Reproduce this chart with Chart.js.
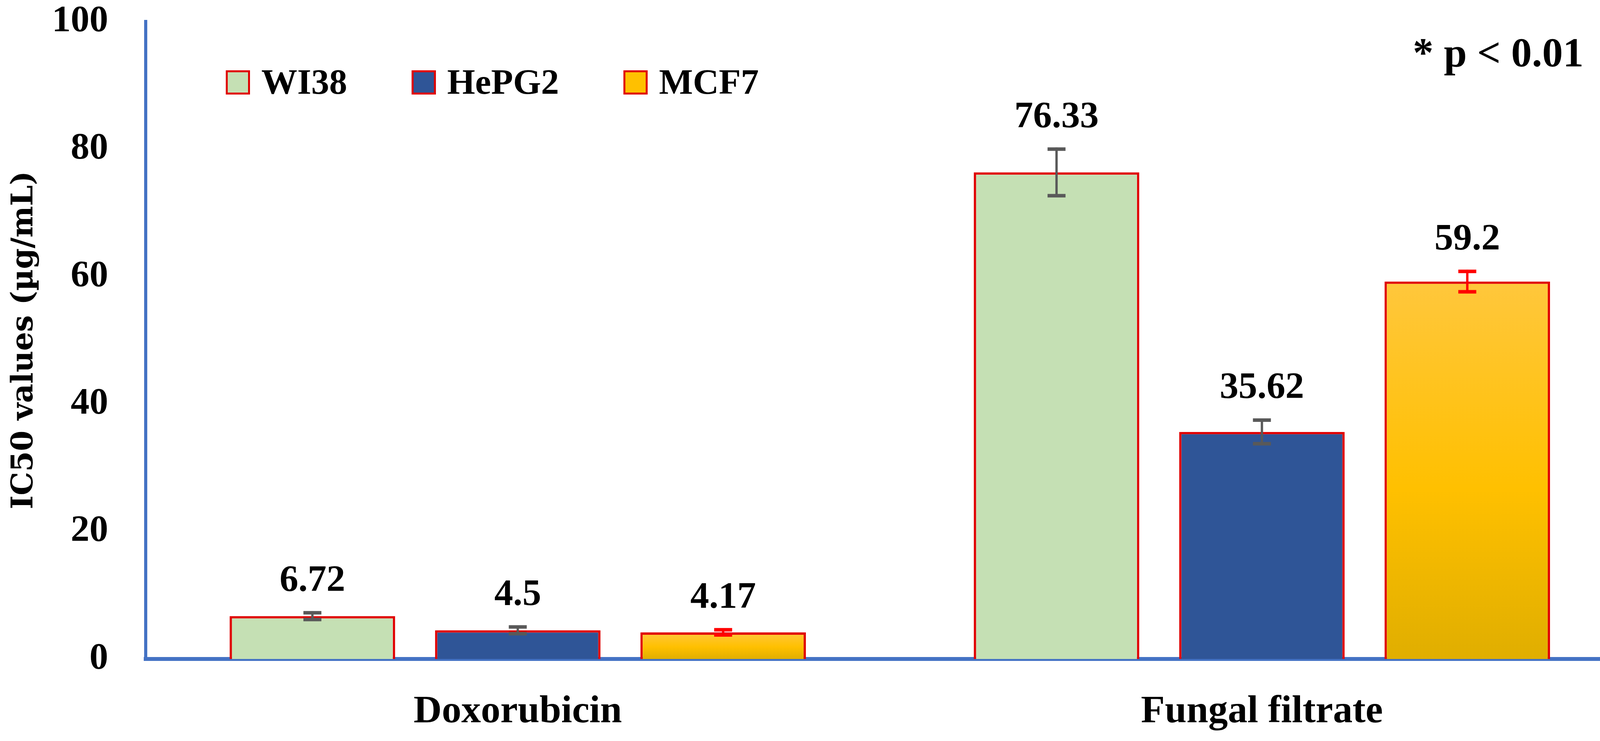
<!DOCTYPE html>
<html>
<head>
<meta charset="utf-8">
<script src="https://cdn.jsdelivr.net/npm/chart.js@4"></script>
<style>
  html, body { margin: 0; padding: 0; background: #ffffff; }
  #wrap { width: 4212px; height: 1897px; position: relative; }
</style>
</head>
<body>
<div id="wrap"><canvas id="graficoIC50"></canvas></div>
<script>
// categorias e séries
const categorias = ["Doxorubicin", "Fungal filtrate"];
const series = ["WI38", "HePG2", "MCF7"];
const valoresWI38 = [6.72, 76.33];
const valoresHePG2 = [4.5, 35.62];
const valoresMCF7 = [4.17, 59.2];
const erroWI38 = [0.77, 3.9];
const erroHePG2 = [0.77, 2.1];
const erroMCF7 = [0.65, 1.85];
const ticksY = [0, 20, 40, 60, 80, 100];

const fonte = "'Liberation Serif', 'Times New Roman', serif";
const vermelho = "#E00000";

function gradienteMCF7(ctx) {
    const chart = ctx.chart;
    if (!chart.chartArea || ctx.type !== "data") return "#FFC000";
    const y = chart.scales.y;
    const topo = y.getPixelForValue(ctx.raw);
    const base = y.getPixelForValue(0);
    const g = chart.ctx.createLinearGradient(0, topo, 0, base);
    g.addColorStop(0, "#FFC73C");
    g.addColorStop(0.55, "#FFC000");
    g.addColorStop(1, "#E0AE00");
    return g;
}

const erros = [erroWI38, erroHePG2, erroMCF7];
const corErro = ["#595959", "#595959", "#FF0000"];

// barras de erro + rótulos de valor
const pluginErros = {
    id: "pluginErros",
    afterDatasetsDraw(chart) {
        const ctx = chart.ctx;
        const y = chart.scales.y;
        ctx.save();
        chart.data.datasets.forEach((ds, i) => {
            const meta = chart.getDatasetMeta(i);
            meta.data.forEach((bar, j) => {
                const v = ds.data[j];
                const e = erros[i][j];
                const yt = y.getPixelForValue(v + e);
                const yb = y.getPixelForValue(v - e);
                ctx.strokeStyle = corErro[i];
                ctx.lineWidth = 6;
                ctx.beginPath();
                ctx.moveTo(bar.x, yt);
                ctx.lineTo(bar.x, yb);
                ctx.stroke();
                ctx.lineWidth = 9;
                ctx.beginPath();
                ctx.moveTo(bar.x - 23, yt + 4);
                ctx.lineTo(bar.x + 23, yt + 4);
                ctx.moveTo(bar.x - 23, yb - 4);
                ctx.lineTo(bar.x + 23, yb - 4);
                ctx.stroke();

                ctx.fillStyle = "#000000";
                ctx.font = "bold 96px " + fonte;
                ctx.textAlign = "center";
                ctx.textBaseline = "alphabetic";
                ctx.fillText(String(v), bar.x, yt - 52);
            });
        });
        ctx.restore();
    }
};

// legenda dentro da área do gráfico e nota de significância
const pluginLegenda = {
    id: "pluginLegenda",
    afterDraw(chart) {
        const ctx = chart.ctx;
        const area = chart.chartArea;
        ctx.save();
        ctx.font = "bold 92px " + fonte;
        ctx.textBaseline = "alphabetic";
        ctx.textAlign = "left";
        let x = area.left + 205;
        const yBox = area.top + 125;
        chart.data.datasets.forEach((ds) => {
            ctx.fillStyle = ds.legendFill;
            ctx.fillRect(x, yBox, 62, 62);
            ctx.strokeStyle = vermelho;
            ctx.lineWidth = 5;
            ctx.strokeRect(x + 2.5, yBox + 2.5, 57, 57);
            ctx.fillStyle = "#000000";
            ctx.fillText(ds.label, x + 91, yBox + 60);
            x += 91 + ctx.measureText(ds.label).width + 165;
        });

        ctx.font = "bold 106px " + fonte;
        ctx.textAlign = "right";
        ctx.fillText("* p < 0.01", area.right - 129, area.top + 115);
        ctx.restore();
    }
};

const graficoIC50 = new Chart(document.getElementById("graficoIC50"), {
    type: "bar",
    data: {
        labels: categorias,
        datasets: [
            {
                label: series[0],
                data: valoresWI38,
                backgroundColor: "#C5E0B4",
                legendFill: "#C5E0B4",
                borderColor: vermelho,
                borderWidth: 6
            },
            {
                label: series[1],
                data: valoresHePG2,
                backgroundColor: "#2F5597",
                legendFill: "#2F5597",
                borderColor: vermelho,
                borderWidth: 6
            },
            {
                label: series[2],
                data: valoresMCF7,
                backgroundColor: gradienteMCF7,
                legendFill: "#FFC000",
                borderColor: vermelho,
                borderWidth: 6
            }
        ]
    },
    options: {
        responsive: true,
        maintainAspectRatio: false,
        devicePixelRatio: 1,
        animation: false,
        layout: {
            padding: { top: 55, right: 29, left: 0, bottom: 0 }
        },
        datasets: {
            bar: { categoryPercentage: 0.828, barPercentage: 0.806 }
        },
        plugins: {
            legend: { display: false },
            tooltip: { enabled: false }
        },
        scales: {
            x: {
                z: 1,
                grid: { display: false, drawTicks: false },
                border: { display: true, color: "#4472C4", width: 10 },
                ticks: {
                    color: "#000000",
                    padding: 76,
                    font: { family: fonte, size: 100, weight: "bold" }
                },
                afterFit: s => { s.height = 210; s.paddingLeft = 0; s.paddingRight = 0; }
            },
            y: {
                min: 0,
                max: 100,
                afterBuildTicks: s => { s.ticks = ticksY.map(v => ({ value: v })); },
                grid: { display: false, drawTicks: false },
                border: { display: true, color: "#4472C4", width: 8 },
                ticks: {
                    color: "#000000",
                    padding: 96,
                    font: { family: fonte, size: 96, weight: "bold" }
                },
                title: {
                    display: true,
                    text: "IC50 values (µg/mL)",
                    color: "#000000",
                    padding: { top: 18, bottom: 0 },
                    font: { family: "'DejaVu Serif', serif", size: 76, weight: "bold" }
                },
                afterFit: s => { s.width = 373; s.paddingTop = 0; s.paddingBottom = 0; }
            }
        }
    },
    plugins: [pluginErros, pluginLegenda]
});
</script>
</body>
</html>
